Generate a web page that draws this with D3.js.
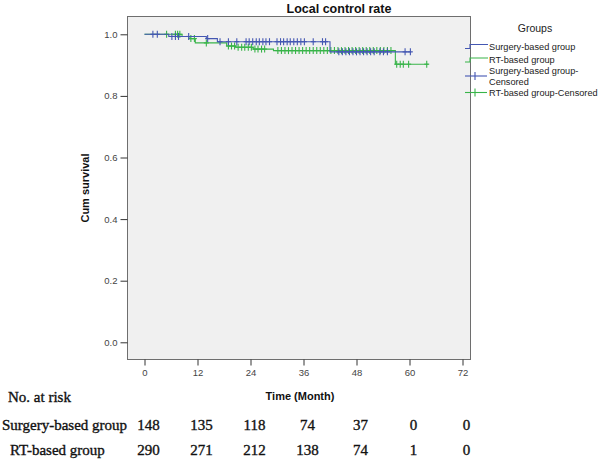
<!DOCTYPE html>
<html><head><meta charset="utf-8">
<script src="https://cdn.jsdelivr.net/npm/d3@7"></script>
<style>body{margin:0;background:#fff}svg{display:block}</style>
</head><body>
<svg id="c" width="600" height="459"></svg>
<script>
// ---- data ----
const title = "Local control rate";
const xTicks = [0, 12, 24, 36, 48, 60, 72];
const yTicks = [0, 0.2, 0.4, 0.6, 0.8, 1.0];
const groups = ["Surgery-based group", "RT-based group"];
const surgeryTimes = [0, 5.5, 14, 16.5, 42, 60.4];
const surgerySurv  = [1, 0.993, 0.986, 0.976, 0.943, 0.943];
const rtTimes = [0, 8.5, 10.3, 11.5, 18.6, 20.6, 24.6, 29.2, 56.8, 64.3];
const rtSurv  = [1, 0.993, 0.986, 0.972, 0.962, 0.958, 0.952, 0.947, 0.903, 0.903];
const surgeryCensored = [1.9, 2.9, 6.2, 7, 7.7, 10, 14.3, 17.1, 19, 20.9, 23, 23.7, 24.5, 25.3, 26, 26.8, 27.5, 28.3, 30, 30.8, 31.5, 32.3, 33, 33.8, 34.6, 35.4, 36.2, 38.2, 40.3, 41, 44, 44.8, 45.6, 46.4, 47.2, 48, 48.8, 49.6, 50.4, 51.2, 52, 53.3, 54.1, 55, 59, 60.2];
const rtCensored = [5, 7, 7.5, 8, 10.5, 11.3, 14, 19, 19.7, 20.4, 21.2, 22, 22.7, 23.5, 24.2, 25, 25.7, 26.5, 27.2, 30.2, 31, 31.8, 32.6, 33.4, 34.2, 35, 35.8, 36.6, 37.4, 38.2, 39, 39.8, 40.6, 41.4, 42.2, 43, 43.8, 44.6, 45.4, 46.2, 47, 47.8, 48.6, 49.4, 50.2, 51, 51.8, 52.6, 53.4, 54.2, 55, 55.8, 57.1, 57.9, 58.6, 59.8, 63.9];
const riskTimes = [0, 12, 24, 36, 48, 60, 72];
const surgeryRisk = [148, 135, 118, 74, 37, 0, 0];
const rtRisk = [290, 271, 212, 138, 74, 1, 0];
const legendLabels = ["Surgery-based group", "RT-based group", "Surgery-based group-\nCensored", "RT-based group-Censored"];

// ---- chart ----
const svg = d3.select("#c");
const blue = "#4457b2", green = "#38b449";
const frame = {l: 127.5, t: 16.5, r: 470.5, b: 359.5};
const x = d3.scaleLinear().domain([0, 72]).range([144.5, 462.5]);
const y = d3.scaleLinear().domain([0, 1]).range([342.3, 34.3]);
const af = "Arial, Liberation Sans, sans-serif";

svg.append("rect").attr("x", frame.l).attr("y", frame.t)
  .attr("width", frame.r - frame.l).attr("height", frame.b - frame.t)
  .attr("fill", "#f0f0f0").attr("stroke", "#6e6e6e").attr("stroke-width", 1);

svg.append("text").attr("x", 339).attr("y", 13).attr("text-anchor", "middle")
  .attr("font-family", af).attr("font-weight", "bold")
  .attr("font-size", 12.5).attr("fill", "#111").text(title);

// y axis
const yAx = svg.append("g").attr("transform", `translate(${frame.l},0)`)
  .call(d3.axisLeft(y).tickValues(yTicks).tickFormat(d3.format(".1f")).tickSize(7).tickPadding(3));
yAx.select(".domain").remove();
yAx.selectAll("line").attr("stroke", "#333");
yAx.selectAll("text").attr("font-family", af).attr("font-size", 9.5).attr("fill", "#444");

// x axis
const xAx = svg.append("g").attr("transform", `translate(0,${frame.b})`)
  .call(d3.axisBottom(x).tickValues(xTicks).tickSize(6).tickPadding(4));
xAx.select(".domain").remove();
xAx.selectAll("line").attr("stroke", "#333");
xAx.selectAll("text").attr("font-family", af).attr("font-size", 9.5).attr("fill", "#444");

svg.append("text").attr("transform", "translate(89,188) rotate(-90)").attr("text-anchor", "middle")
  .attr("font-family", af).attr("font-weight", "bold")
  .attr("font-size", 11).attr("fill", "#111").text("Cum survival");
svg.append("text").attr("x", 300).attr("y", 400).attr("text-anchor", "middle")
  .attr("font-family", af).attr("font-weight", "bold")
  .attr("font-size", 11).attr("fill", "#111").text("Time (Month)");

// curves
function stepVal(times, surv, t) {
  let v = surv[0];
  for (let i = 0; i < times.length; i++) if (times[i] <= t) v = surv[i];
  return v;
}
const line = d3.line().x(d => x(d[0])).y(d => y(d[1])).curve(d3.curveStepAfter);
function drawCurve(times, surv, cens, col) {
  svg.append("path").datum(times.map((t, i) => [t, surv[i]]))
    .attr("d", line).attr("fill", "none").attr("stroke", col).attr("stroke-width", 1.1);
  const g = svg.append("g").attr("stroke", col).attr("stroke-width", 1.1);
  cens.forEach(t => {
    const cx = x(t), cy = y(stepVal(times, surv, t));
    g.append("line").attr("x1", cx).attr("x2", cx).attr("y1", cy - 3.5).attr("y2", cy + 3.5);
    g.append("line").attr("x1", cx - 2.5).attr("x2", cx + 2.5).attr("y1", cy).attr("y2", cy);
  });
}
drawCurve(rtTimes, rtSurv, rtCensored, green);
drawCurve(surgeryTimes, surgerySurv, surgeryCensored, blue);

// legend
svg.append("text").attr("x", 535).attr("y", 32).attr("text-anchor", "middle")
  .attr("font-family", af).attr("font-size", 10.5).attr("fill", "#222").text("Groups");
const lg = svg.append("g");
[[blue, 46.5], [green, 60]].forEach(([col, yy], i) => {
  lg.append("path").attr("d", `M465,${yy + 2}H470V${yy - 2}H488`).attr("fill", "none").attr("stroke", col).attr("stroke-width", 1.1);
  lg.append("text").attr("x", 489).attr("y", yy + 3).attr("font-family", af).attr("font-size", 9.2).attr("fill", "#222").text(legendLabels[i]);
});
[[blue, 76], [green, 92.5]].forEach(([col, yy], i) => {
  lg.append("line").attr("x1", 465).attr("x2", 487).attr("y1", yy).attr("y2", yy).attr("stroke", col).attr("stroke-width", 1.1);
  lg.append("line").attr("x1", 475).attr("x2", 475).attr("y1", yy - 4).attr("y2", yy + 4).attr("stroke", col).attr("stroke-width", 1.1);
  const parts = legendLabels[i + 2].split("\n");
  const t = lg.append("text").attr("font-family", af).attr("font-size", 9.2).attr("fill", "#222");
  parts.forEach((p, k) => {
    t.append("tspan").attr("x", 489).attr("y", yy + 3 + (parts.length === 2 ? (k === 0 ? -5 : 5.5) : 0)).text(p);
  });
});

// risk table
const sf = "Liberation Serif, Times New Roman, serif";
function styleRisk(sel) {
  return sel.attr("font-family", sf).attr("font-size", 15).attr("fill", "#111")
    .attr("stroke", "#111").attr("stroke-width", 0.35);
}
function rt(xx, yy, s) {
  return styleRisk(svg.append("text").attr("x", xx).attr("y", yy)).text(s);
}
rt(8, 402, "No. at risk");
rt(2, 430, groups[0]);
rt(10, 455, groups[1]);
[[surgeryRisk, 430], [rtRisk, 455]].forEach(([arr, yy]) => {
  styleRisk(svg.append("g").selectAll("text").data(arr).join("text")
    .attr("x", (d, i) => x(riskTimes[i]) + 4).attr("y", yy).attr("text-anchor", "middle"))
    .text(d => d);
});
</script>
</body></html>
